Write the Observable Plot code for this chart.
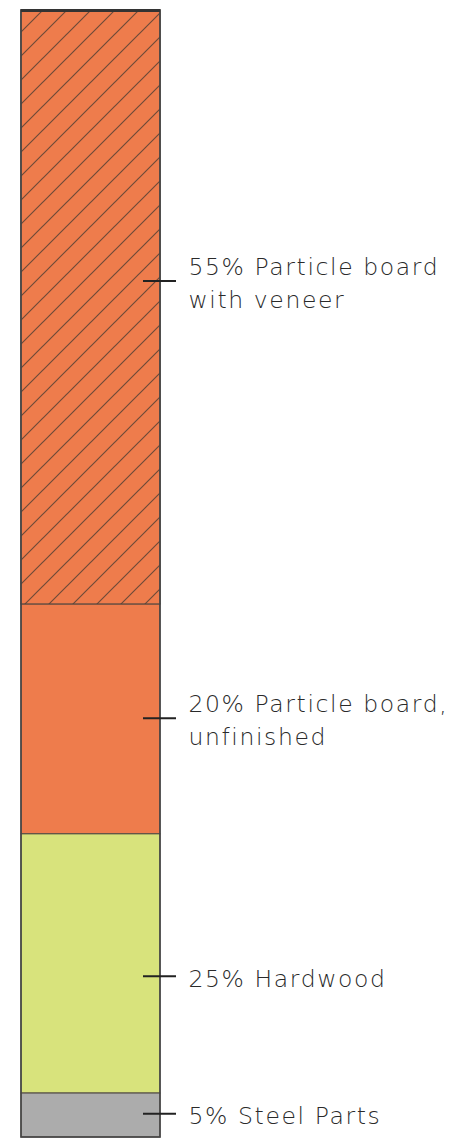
<!DOCTYPE html>
<html>
<head>
<meta charset="utf-8">
<script src="https://cdn.jsdelivr.net/npm/d3@7"></script>
<script src="https://cdn.jsdelivr.net/npm/@observablehq/plot@0.6"></script>
<style>
  html, body { margin: 0; padding: 0; background: #fff; }
  #chart { width: 452px; height: 1139px; }
</style>
</head>
<body>
<div id="chart"></div>
<script>
// Data
const materials = ["Particle board with veneer", "Particle board, unfinished", "Hardwood", "Steel Parts"];
const labelTexts = ["55% Particle board\nwith veneer", "20% Particle board,\nunfinished", "25% Hardwood", "5% Steel Parts"];
// drawn share of the bar (top to bottom)
const barShare = [52.7, 20.4, 23.0, 3.9];
// where each label's leader points, in the same units
const labelAt = [24.0, 62.8, 85.7, 97.9];
const fills = ["#ee7c4c", "#ee7c4c", "#d8e37c", "#acacac"];
const hatched = [true, false, false, false];

const ends = d3.cumsum(barShare);
const total = ends[ends.length - 1];
const rows = materials.map((m, i) => ({
  material: m,
  label: labelTexts[i],
  y1: ends[i] - barShare[i],
  y2: ends[i],
  at: labelAt[i],
  fill: fills[i],
  hatched: hatched[i]
}));

const barW = 139; // px of bar width for converting pixel offsets
const chart = Plot.plot({
  width: 452,
  height: 1139,
  margin: 0,
  x: {domain: [0, 1], range: [21, 160], axis: null},
  y: {domain: [0, total], range: [10, 1137], axis: null},
  marks: [
    Plot.rect(rows, {
      x1: 0, x2: 1, y1: "y1", y2: "y2",
      fill: "fill",
      stroke: "#4d4640", strokeWidth: 1
    }),
    Plot.rect(rows.filter(d => d.hatched), {
      x1: 0, x2: 1, y1: "y1", y2: "y2",
      fill: "#ee7c4c",
      stroke: "#4d4640", strokeWidth: 1,
      className: "hatchseg"
    }),
    Plot.rect([{y1: 0, y2: total}], {
      x1: 0, x2: 1, y1: "y1", y2: "y2",
      fill: "none", stroke: "#454545", strokeWidth: 1.6
    }),
    Plot.ruleY([0], {x1: 0, x2: 1, stroke: "#333", strokeWidth: 3}),
    Plot.ruleY(rows, {
      y: "at",
      x1: 1 - 17 / barW, x2: 1 + 16 / barW,
      stroke: "#222", strokeWidth: 2
    }),
    Plot.text(rows, {
      x: 1, y: "at", text: "label",
      dx: 28, textAnchor: "start", lineAnchor: "middle",
      lineHeight: 1.4,
      fontSize: 23.5, fontWeight: 200,
      fontFamily: "'DejaVu Sans', sans-serif",
      fill: "#2a2a2a",
      className: "lbl"
    })
  ]
});

// hatch pattern
const svg = d3.select(chart);
const defs = svg.insert("defs", ":first-child");
const pat = defs.append("pattern")
  .attr("id", "hatch")
  .attr("patternUnits", "userSpaceOnUse")
  .attr("width", 24).attr("height", 24)
  .attr("x", 19).attr("y", 10);
pat.append("rect").attr("width", 24).attr("height", 24).attr("fill", "#ee7c4c");
pat.append("path")
  .attr("d", "M0,24 L24,0 M-6,6 L6,-6 M18,30 L30,18")
  .attr("stroke", "#6e4a38").attr("stroke-width", 1.2).attr("fill", "none");
svg.selectAll(".hatchseg rect").attr("fill", "url(#hatch)");
svg.selectAll(".lbl text").style("letter-spacing", "1.6px");

document.getElementById("chart").appendChild(chart);
</script>
</body>
</html>
